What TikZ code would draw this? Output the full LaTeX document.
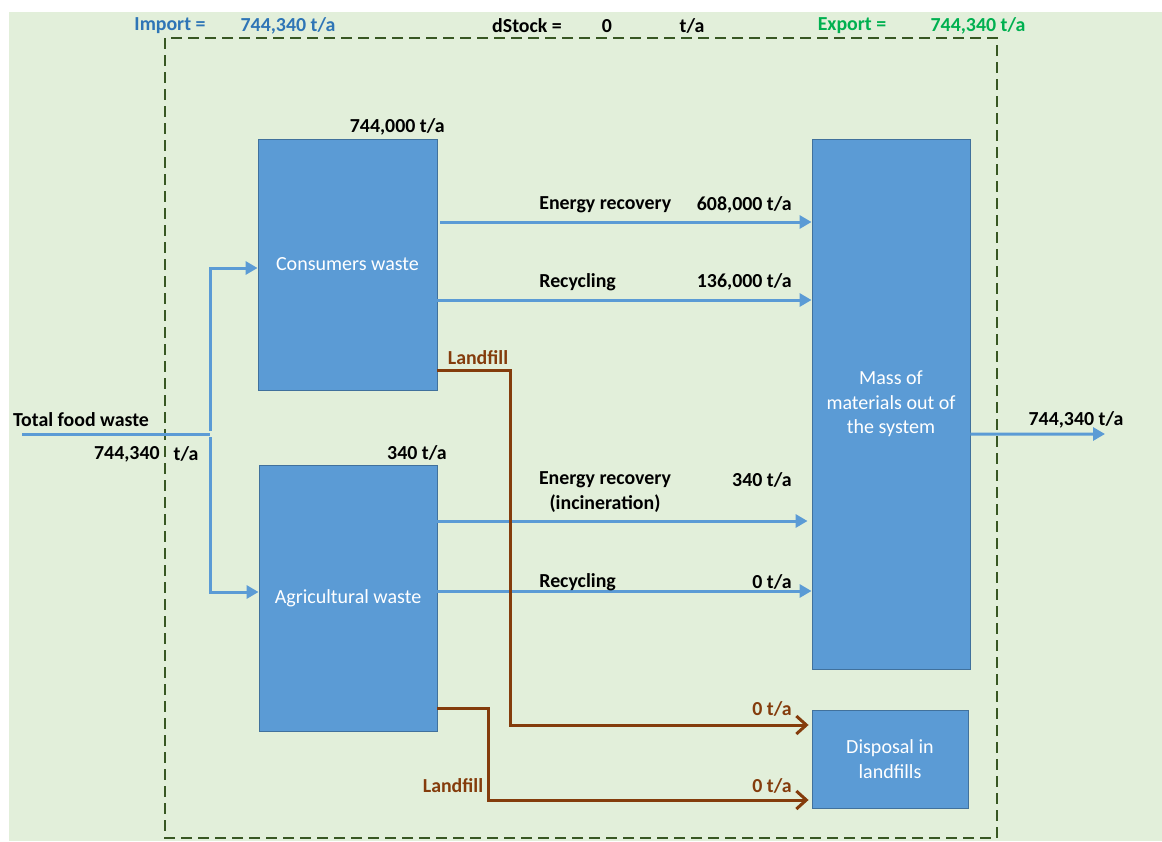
\documentclass[tikz,border=0pt]{standalone}
\usepackage{fontspec}
\setmainfont{Carlito}
\usetikzlibrary{arrows.meta}
\definecolor{greenbg}{RGB}{226,239,218}
\definecolor{boxblue}{RGB}{91,155,213}
\definecolor{boxedge}{RGB}{65,113,156}
\definecolor{lfbrown}{RGB}{132,60,12}
\definecolor{sysgreen}{RGB}{56,87,35}
\definecolor{impblue}{RGB}{46,117,182}
\definecolor{expgreen}{RGB}{0,176,80}

\begin{document}
\begin{tikzpicture}[x=0.2mm, y=-0.2mm,
  font=\fontsize{11.4}{14}\selectfont,
  proc/.style={rectangle, draw=boxedge, fill=boxblue, text=white, align=center,
    line width=0.5pt, inner sep=2pt},
  lbl/.style={font=\fontsize{11.3}{14}\selectfont\bfseries, inner sep=0pt},
  lflbl/.style={lbl, text=lfbrown},
  flow/.style={-{Triangle[length=2.4mm, width=2.6mm]}, boxblue, line width=0.6mm},
  lfflow/.style={-{Straight Barb[length=2mm, width=3.6mm, line width=0.6mm]}, lfbrown,
    line width=0.6mm},
  sysbound/.style={draw=sysgreen, line width=0.55mm, dash pattern=on 2.2mm off 1.2mm}
]
\useasboundingbox (0,0) rectangle (1162,841);
\fill[greenbg] (9,12) rectangle (1162,841);

% system boundary
\draw[sysbound] (165,38) rectangle (997,838);

% balance line
\node[lbl, text=impblue] (imp) at (170,26) {Import =};
\node[lbl, text=impblue] (impval) at (288,26) {744,340 t/a};
\node[lbl] (dst) at (527,26) {dStock =};
\node[lbl] (dstval) at (607,26) {0};
\node[lbl] (dstunit) at (692,26) {t/a};
\node[lbl, text=expgreen] (exp) at (852,26) {Export =};
\node[lbl, text=expgreen] (expval) at (978,26) {744,340 t/a};

% processes
\node[proc, minimum width=35.8mm, minimum height=50.2mm] (cons) at (347.5,264.5) {Consumers waste};
\node[proc, minimum width=35.6mm, minimum height=53.2mm] (agri) at (348,598) {Agricultural waste};
\node[proc, minimum width=31.6mm, minimum height=106mm] (mass) at (891,404) {Mass of\\materials out of\\the system};
\node[proc, minimum width=31.2mm, minimum height=19.6mm] (disp) at (890,759) {Disposal in\\landfills};

\coordinate (in) at (22,434);
\coordinate (split) at (210,434);
\coordinate (out) at (1105,434);

% input
\draw[boxblue, line width=0.6mm] (in) -- (split);
\draw[flow] ([yshift=0.6mm]split) |- ([yshift=-0.7mm]cons.west);
\draw[flow] ([yshift=-0.6mm]split) |- ([yshift=1.2mm]agri.west);
\node[lbl] (inlbl) at (81,420) {Total food waste};
\node[lbl, anchor=east] (inval) at (160,454) {744,340};
\node[lbl] (inunit) at (186,454) {t/a};

\node[lbl, anchor=east] (consval) at (445,127) {744,000 t/a};
\node[lbl, anchor=east] (agrival) at (447,453) {340 t/a};

% consumers waste flows
\draw[flow] ([xshift=0.6mm, yshift=8.5mm]cons.east) -- ([yshift=8.5mm]cons.east -| mass.west);
\draw[flow] ([yshift=-7.1mm]cons.east) -- ([yshift=-7.1mm]cons.east -| mass.west);
\node[lbl, anchor=west] (er1) at (539,205) {Energy recovery};
\node[lbl, anchor=east] (er1val) at (792,205) {608,000 t/a};
\node[lbl, anchor=west] (rc1) at (539,282) {Recycling};
\node[lbl, anchor=east] (rc1val) at (792,282) {136,000 t/a};

% agricultural waste flows
\draw[flow] ([yshift=15.4mm]agri.east) -- ([xshift=-0.8mm, yshift=15.4mm]agri.east -| mass.west);
\draw[flow] ([yshift=1.4mm]agri.east) -- ([yshift=1.4mm]agri.east -| mass.west);
\node[lbl, align=center] (er2) at (605,492) {Energy recovery\\(incineration)};
\node[lbl, anchor=east] (er2val) at (792,480) {340 t/a};
\node[lbl, anchor=west] (rc2) at (539,582) {Recycling};
\node[lbl, anchor=east] (rc2val) at (792,582) {0 t/a};

% landfill flows
\draw[lfflow] ([yshift=-21.1mm]cons.east) -- ++(73,0) |- ([xshift=-0.6mm, yshift=6.8mm]disp.west);
\draw[lfflow] ([yshift=-22mm]agri.east) -- ++(51,0) |- ([xshift=-0.6mm, yshift=-8.2mm]disp.west);
\node[lflbl] (lf1) at (478,358) {Landfill};
\node[lflbl] (lf2) at (453,786) {Landfill};
\node[lflbl, anchor=east] (lf1val) at (792,709) {0 t/a};
\node[lflbl, anchor=east] (lf2val) at (792,786) {0 t/a};

% output
\draw[flow] ([yshift=-6mm]mass.east) -- (out);
\node[lbl] (outval) at (1076,420) {744,340 t/a};

\end{tikzpicture}
\end{document}
